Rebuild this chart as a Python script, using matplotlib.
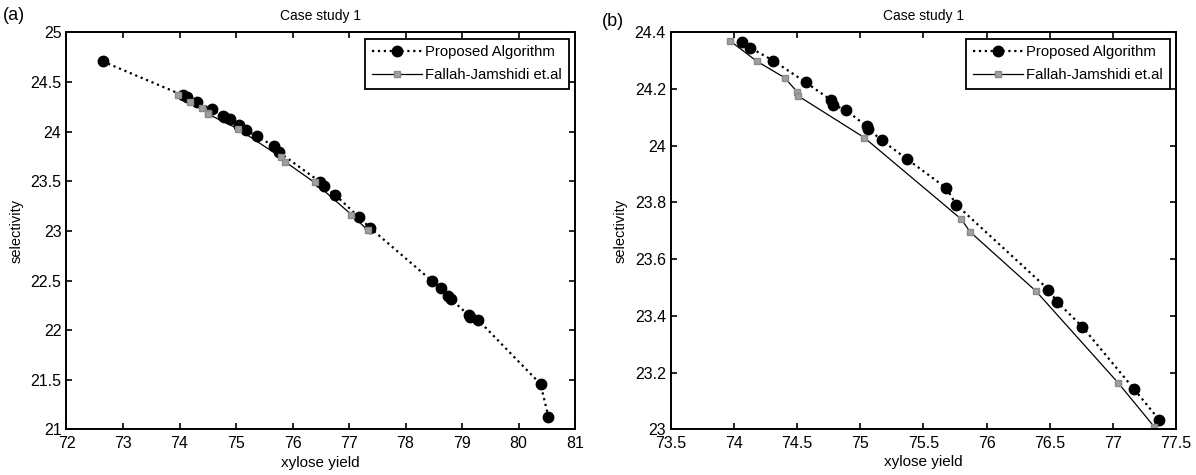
import numpy as np
import matplotlib
matplotlib.use("Agg")
import matplotlib.pyplot as plt
from matplotlib.ticker import FixedLocator, FuncFormatter

plt.rcParams['font.family'] = ['Liberation Sans', 'DejaVu Sans']

# Pareto fronts, case study 1
proposed_yield = [72.64, 74.06, 74.13, 74.31, 74.57, 74.77, 74.78, 74.89, 75.05, 75.06,
                  75.17, 75.37, 75.68, 75.76, 76.49, 76.56, 76.76, 77.17, 77.37,
                  78.46, 78.63, 78.76, 78.81, 79.12, 79.14, 79.29, 80.39, 80.53]
proposed_select = [24.707, 24.366, 24.345, 24.300, 24.223, 24.160, 24.145, 24.125, 24.068, 24.060,
                   24.019, 23.953, 23.851, 23.792, 23.493, 23.449, 23.361, 23.141, 23.032,
                   22.50, 22.427, 22.34, 22.31, 22.15, 22.135, 22.10, 21.457, 21.126]

fallah_yield = [73.97, 74.18, 74.40, 74.50, 74.51, 75.03, 75.80, 75.87, 76.39, 77.04, 77.33]
fallah_select = [24.369, 24.298, 24.240, 24.190, 24.175, 24.029, 23.741, 23.696, 23.488, 23.165, 23.008]

xticks_a = [72, 73, 74, 75, 76, 77, 78, 79, 80, 81]
yticks_a = [21, 21.5, 22, 22.5, 23, 23.5, 24, 24.5, 25]
xticks_b = [73.5, 74, 74.5, 75, 75.5, 76, 76.5, 77, 77.5]
yticks_b = [23, 23.2, 23.4, 23.6, 23.8, 24, 24.2, 24.4]

px = np.array(proposed_yield)
py = np.array(proposed_select)
fx = np.array(fallah_yield)
fy = np.array(fallah_select)

fig = plt.figure(figsize=(11.96, 4.75), dpi=100)
ax_a = fig.add_axes([0.0556, 0.0958, 0.4252, 0.8362])
ax_b = fig.add_axes([0.5610, 0.0962, 0.4222, 0.8358])


def draw(ax, xt, yt, mask):
    ax.plot(px[mask], py[mask], linestyle=':', color='black', linewidth=1.6,
            marker='o', markersize=7.5, markerfacecolor='black',
            markeredgecolor='black', label='Proposed Algorithm')
    ax.plot(fx, fy, linestyle='-', color='black', linewidth=0.9,
            marker='s', markersize=5, markerfacecolor='#a0a0a0',
            markeredgecolor='#8a8a8a', label='Fallah-Jamshidi et.al')
    ax.set_xlim(xt[0], xt[-1])
    ax.set_ylim(yt[0], yt[-1])
    ax.xaxis.set_major_locator(FixedLocator(xt))
    ax.yaxis.set_major_locator(FixedLocator(yt))
    fmt = FuncFormatter(lambda v, pos: '%g' % v)
    ax.xaxis.set_major_formatter(fmt)
    ax.yaxis.set_major_formatter(fmt)
    ax.tick_params(direction='in', top=True, right=True, length=4, width=1.2,
                   labelsize=11.5)
    ax.tick_params(axis='x', pad=5)
    ax.tick_params(axis='y', pad=3.6)
    for s in ax.spines.values():
        s.set_linewidth(1.4)
    ax.set_xlabel('xylose yield', fontsize=11, labelpad=3)
    ax.set_ylabel('selectivity', fontsize=10.5, labelpad=5)
    ax.set_title('Case study 1', fontsize=10, pad=9)
    leg = ax.legend(loc='upper right', fontsize=10.7, handlelength=3.35,
                    numpoints=1, fancybox=False, framealpha=1,
                    borderaxespad=0.42, borderpad=0.45, labelspacing=0.6,
                    handletextpad=0.25)
    leg.get_frame().set_edgecolor('black')
    leg.get_frame().set_linewidth(1.3)


draw(ax_a, xticks_a, yticks_a, np.ones(len(px), dtype=bool))
in_b = (px >= xticks_b[0]) & (px <= xticks_b[-1]) & (py >= yticks_b[0]) & (py <= yticks_b[-1])
draw(ax_b, xticks_b, yticks_b, in_b)

fig.text(0.002, 0.985, '(a)', fontsize=13, va='top', ha='left')
fig.text(0.503, 0.972, '(b)', fontsize=13, va='top', ha='left')

fig.savefig('out.png', dpi=100)
